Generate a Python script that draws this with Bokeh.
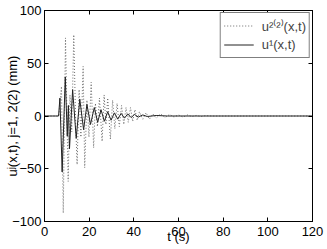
from bokeh.plotting import figure
from bokeh.models import Range1d, LinearAxis, FixedTicker, Legend
from bokeh.embed import file_html
from bokeh.resources import INLINE

# solid series u^1(x,t)
t1 = [0, 6.3, 6.9, 7.9, 9.3, 10.2, 10.7, 11.2, 12.6, 14.2, 15.8, 17.5, 19.0, 20.6, 22.3,
      23.8, 25.3, 26.8, 28.3, 29.8, 31.3, 32.8, 34.3, 35.8, 37.3, 38.8, 40.3, 42.0, 44.0,
      46.0, 50.0, 55.0, 120]
u1 = [0, 0, 17, -53, 37, -19, 10, -31, 25, -21, 16, -13, 11, -8, 8,
      -6, 6, -5, 4, -4, 3, -3, 2.5, -2, 2, -1.5, 1.5, -1, 1,
      -0.5, 0.5, 0, 0]

# dotted series u^{2(2)}(x,t)
t2 = [0, 6.4, 7.0, 7.6, 8.4, 9.4, 10.6, 11.4, 12.2, 13.1, 14.0, 14.6, 15.5, 16.3, 17.3,
      18.0, 19.0, 19.9, 20.9, 22.0, 22.8, 23.7, 24.6, 25.8, 26.7, 27.5, 28.3, 29.5, 30.5,
      31.5, 32.5, 33.5, 34.5, 35.5, 36.5, 37.5, 38.5, 39.5, 40.5, 41.5, 42.5, 44, 45.5,
      47, 48.5, 50, 52, 54, 56, 58, 60, 62, 64, 66, 68, 70, 72, 75, 120]
u2 = [0, 0, 15, 28, -92, 74, -62, 20, -15, 77, -10, -46, 25, -20, 47,
      -49, 15, -20, 32, -30, 12, -10, 17, -24, 20, -8, 17, -22, 15,
      -12, 12, -10, 10, -8, 8, -6, 8, -5, 6, -4, 4, -3, 3,
      -3, 2, -2, 2, -1.5, 1.5, -1, 1, -1, 1, -0.5, 0.5, -0.5, 0.3, 0, 0]

x_ticks = [0, 20, 40, 60, 80, 100, 120]
y_ticks = [-100, -50, 0, 50, 100]

FONT = "Liberation Sans"

p = figure(width=327, height=249, output_backend="svg", toolbar_location=None,
           x_range=Range1d(0, 120), y_range=Range1d(-100, 100),
           min_border_left=44, min_border_right=15, min_border_top=10, min_border_bottom=28)
p.background_fill_color = "white"
p.border_fill_color = "white"
p.outline_line_color = "black"
p.outline_line_width = 1
p.grid.visible = False

r2 = p.line(t2, u2, line_color="#6a6a6a", line_width=1, line_dash="1 2")
r1 = p.line(t1, u1, line_color="#222222", line_width=1)

for ax in (p.xaxis[0], p.yaxis[0]):
    ax.major_tick_in = 4
    ax.major_tick_out = 0
    ax.minor_tick_line_color = None
    ax.axis_line_color = "black"
    ax.major_tick_line_color = "black"
    ax.major_label_text_font = FONT
    ax.major_label_text_font_size = "13px"
    ax.major_label_text_color = "black"
    ax.axis_label_text_font = FONT
    ax.axis_label_text_font_size = "13px"
    ax.axis_label_text_font_style = "normal"
    ax.axis_label_text_color = "black"
p.xaxis[0].major_label_standoff = 5
p.yaxis[0].major_label_standoff = 3
p.xaxis[0].ticker = FixedTicker(ticks=x_ticks)
p.yaxis[0].ticker = FixedTicker(ticks=y_ticks)
p.yaxis[0].major_label_overrides = {v: ("\u2212" + str(-v) if v < 0 else str(v)) for v in y_ticks}
p.yaxis[0].axis_label = "u\u02b2(x,t), j=1, 2(2) (mm)"
p.yaxis[0].axis_label_standoff = -11
p.xaxis[0].axis_label = "t (s)"
p.xaxis[0].axis_label_standoff = -10

top = LinearAxis(ticker=FixedTicker(ticks=x_ticks), major_label_text_font_size="1px",
                 major_label_text_color=None,
                 major_tick_in=4, major_tick_out=0, minor_tick_line_color=None,
                 major_label_standoff=0, axis_line_color="black")
right = LinearAxis(ticker=FixedTicker(ticks=y_ticks), major_label_text_font_size="1px",
                   major_label_text_color=None,
                   major_tick_in=4, major_tick_out=0, minor_tick_line_color=None,
                   major_label_standoff=0, axis_line_color="black")
p.add_layout(top, "above")
p.add_layout(right, "right")

legend = Legend(items=[("u\u00b2\u207d\u00b2\u207e(x,t)", [r2]), ("u\u00b9(x,t)", [r1])],
                location="top_right")
legend.label_text_font = FONT
legend.label_text_font_size = "13px"
legend.border_line_color = "black"
legend.border_line_width = 1
legend.background_fill_alpha = 1
legend.margin = 2
legend.padding = 3
legend.spacing = 0
legend.glyph_width = 30
legend.label_standoff = 8
legend.label_height = 19
legend.glyph_height = 19
p.add_layout(legend)

open("out.html", "w").write(file_html(p, INLINE))
